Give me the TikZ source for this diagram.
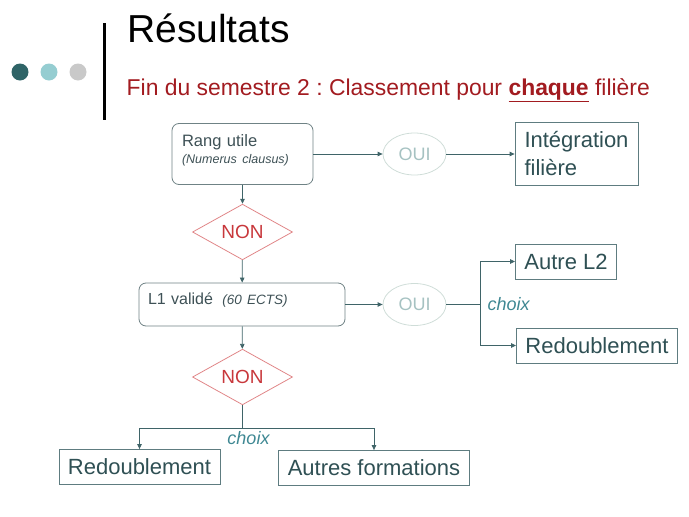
\documentclass[tikz,border=0pt]{standalone}
\usepackage{fontspec}
\setmainfont{Liberation Sans}
\usepackage{xcolor}
\usetikzlibrary{positioning,shapes.geometric,arrows.meta}
\frenchspacing
\definecolor{fleche}{HTML}{3F6468}
\definecolor{cadre}{HTML}{6F8285}
\definecolor{bord}{HTML}{5E7C80}
\definecolor{texte}{HTML}{2F5054}
\definecolor{textegris}{HTML}{3E5156}
\definecolor{ouibord}{HTML}{CFDDD8}
\definecolor{ouitexte}{HTML}{A6C2C2}
\definecolor{nonbord}{HTML}{E08688}
\definecolor{nontexte}{HTML}{C8383C}
\definecolor{choixcol}{HTML}{3F8893}
\definecolor{soustitre}{HTML}{A21B20}
\definecolor{pointA}{HTML}{2F6467}
\definecolor{pointB}{HTML}{95CDD1}
\definecolor{pointC}{HTML}{C9C9C9}
\tikzstyle{critere}=[rectangle,rounded corners=7pt,draw=cadre,fill=white,text=textegris,align=left,inner ysep=0pt,line width=0.8pt]
\tikzstyle{issue}=[rectangle,draw=bord,fill=white,text=texte,inner xsep=9pt,minimum height=35pt,line width=0.8pt,font=\fontsize{22}{28}\selectfont]
\tikzstyle{oui}=[ellipse,draw=ouibord,text=ouitexte,minimum width=63pt,minimum height=42pt,inner sep=0pt,line width=0.8pt,font=\fontsize{18}{20}\selectfont]
\tikzstyle{non}=[diamond,draw=nonbord,text=nontexte,minimum width=100pt,minimum height=52pt,inner sep=0pt,line width=0.8pt,font=\fontsize{19}{21}\selectfont]
\tikzstyle{choix}=[text=choixcol,inner sep=1pt,font=\itshape\fontsize{18}{20}\selectfont]
\tikzstyle{point}=[circle,minimum size=17pt,inner sep=0pt]
\tikzstyle{mypath}=[draw=fleche,line width=0.8pt,-{Triangle[length=5pt,width=4.5pt]}]
\tikzstyle{mytrait}=[draw=fleche,line width=0.8pt]

\begin{document}
\begin{tikzpicture}[x=1pt,y=-1pt]
                \useasboundingbox (0,0) rectangle (689,517);

                \node[point,fill=pointA] (pa) at (20,72) {};
                \node[point,fill=pointB] (pb) at (49,72) {};
                \node[point,fill=pointC] (pc) at (78,72) {};
                \draw[line width=3pt] (104,23) -- (104,120);

                \node[anchor=base west,inner sep=0pt,font=\fontsize{39}{41}\selectfont] (titre) at (127,42.5) {Résultats};
                \node[anchor=base west,inner sep=0pt,text=soustitre,font=\fontsize{22.9}{26}\selectfont] (soustitre) at (126.5,95) {Fin du semestre 2 : Classement pour \underline{\textbf{chaque}} filière};

                \node[critere,text width=121pt,inner xsep=10pt,text height=22.5pt,text depth=38.5pt,font=\fontsize{16.5}{17}\selectfont] (rang) at (242.5,154) {Rang utile\\{\itshape\fontsize{12.5}{17}\selectfont (Numerus clausus)}};
                \node[oui] (oui1) at (414.5,154) {OUI};
                \node[issue,align=left,minimum width=123pt,minimum height=63pt] (integ) at (576.5,154) {Intégration\\filière};

                \node[non] (non1) at (242.5,232) {NON};

                \node[critere,text width=188pt,inner xsep=9pt,text height=21pt,text depth=22pt,font=\fontsize{16}{18}\selectfont] (valide) at (242,304.5) {L1 validé\hspace{4pt} {\itshape\fontsize{13.5}{16}\selectfont (60 ECTS)}};
                \node[oui] (oui2) at (414.5,304.5) {OUI};
                \node[issue] (autre) at (566,261.5) {Autre L2};
                \node[issue] (redoubA) at (597,345.5) {Redoublement};

                \node[non] (non2) at (242.5,377) {NON};
                \node[issue] (redoubB) at (139.5,467) {Redoublement};
                \node[issue] (autres) at (374,468) {Autres formations};

                \draw[mypath] (rang) -- (oui1);
                \draw[mypath] (oui1) -- (integ);
                \draw[mypath] (rang) -- (non1);
                \draw[mypath] (non1) -- (valide);
                \draw[mypath] (valide) -- (oui2);

                \draw[mytrait] (oui2.east) -- ++(34,0) coordinate (fourche);
                \draw[mypath] (fourche) |- (autre);
                \draw[mypath] (fourche) |- (redoubA);
                \node[choix,anchor=west,right=6pt of fourche] (choixA) {choix};

                \draw[mypath] (valide) -- (non2);
                \draw[mytrait] (non2.south) -- ++(0,23) coordinate (embranch);
                \draw[mypath] (embranch) -| (redoubB);
                \draw[mypath] (embranch) -| (autres);
                \node[choix,below=2pt of embranch,xshift=6pt] (choixB) {choix};
\end{tikzpicture}
\end{document}
